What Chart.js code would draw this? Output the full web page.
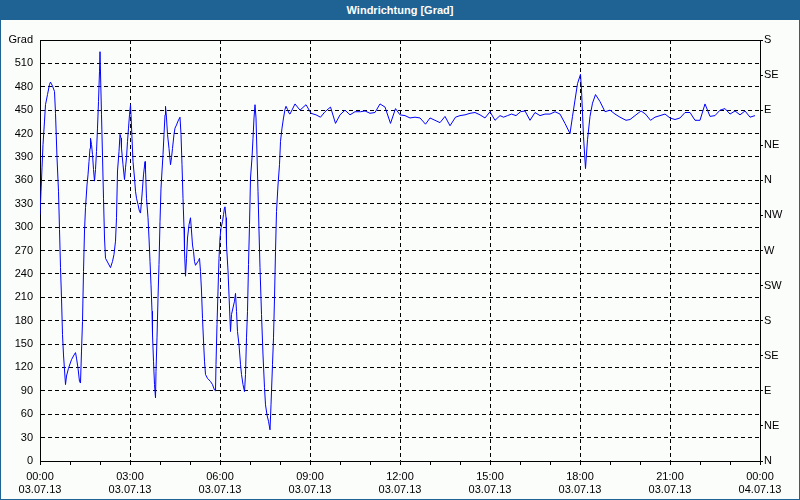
<!DOCTYPE html>
<html>
<head>
<meta charset="utf-8">
<script src="https://cdn.jsdelivr.net/npm/chart.js@4/dist/chart.umd.min.js"></script>
<style>
  html, body { margin: 0; padding: 0; background: #1f6294; }
  #frame { position: relative; width: 800px; height: 500px; background: #1f6294; box-sizing: border-box; }
  #head { position: absolute; left: 0; top: 0; width: 800px; height: 20px; color: #fff;
          font: bold 11px "Liberation Sans", Arial, sans-serif; text-align: center; line-height: 20px; }
  #body { position: absolute; left: 1px; top: 20px; width: 798px; height: 479px; background: #fbfdfb; }
  canvas { display: block; }
</style>
</head>
<body>
<div id="frame">
  <div id="head">Windrichtung [Grad]</div>
  <div id="body"><canvas id="c" width="798" height="479"></canvas></div>
</div>
<script>
// Time of each reading in minutes after 00:00 on 03.07.13
const minutes = [
  0, 2, 4, 6, 9, 11, 15, 19, 21, 25, 29, 31, 34, 37, 39, 41, 43, 45, 47, 51,
  53, 57, 63, 68, 71, 73, 76, 79, 81, 83, 85, 87, 89, 91, 94, 96, 98, 100, 101, 103,
  105, 107, 109, 111, 113, 115, 117, 119, 120, 123, 125, 127, 129, 131, 136, 141, 145, 148, 151, 153,
  155, 158, 160, 162, 163, 166, 169, 171, 173, 175, 177, 179, 181, 182, 184, 186, 189, 191, 193, 196,
  199, 201, 203, 205, 207, 210, 211, 213, 216, 218, 220, 222, 224, 225, 227, 229, 231, 232, 234, 236,
  238, 240, 242, 244, 246, 248, 250, 251, 253, 255, 258, 261, 263, 265, 268, 270, 273, 276, 280, 282,
  284, 286, 288, 289, 291, 293, 295, 298, 301, 303, 305, 307, 309, 311, 314, 317, 319, 321, 323, 325,
  327, 329, 331, 335, 341, 345, 349, 351, 352, 354, 356, 358, 360, 362, 365, 367, 369, 370, 372, 373,
  376, 378, 381, 383, 389, 391, 393, 395, 398, 401, 403, 406, 409, 411, 413, 415, 417, 419, 421, 424,
  426, 428, 430, 432, 434, 436, 438, 440, 443, 446, 449, 451, 454, 457, 460, 462, 465, 467, 469, 471,
  473, 476, 479, 481, 484, 487, 490, 492, 495, 498,
  500, 510, 520, 532, 542, 552, 561, 570, 581, 591, 600, 610, 620, 630, 641, 650, 660, 670, 680, 690,
  701, 711, 720, 730, 740, 750, 760, 771, 780, 790, 800, 810, 820, 831, 840, 850, 860, 870, 880, 890,
  900, 910, 920, 927, 935, 943, 952, 961, 970, 980, 990, 1000, 1010, 1020, 1030, 1040, 1050, 1060, 1065, 1070,
  1075, 1081, 1083, 1087, 1091, 1095, 1100, 1105, 1111, 1120, 1130, 1140, 1150, 1160, 1172, 1180, 1190, 1202, 1211, 1221,
  1230, 1240, 1250, 1260, 1270, 1280, 1290, 1300, 1310, 1320, 1330, 1340, 1350, 1360, 1370, 1380, 1390, 1400, 1410, 1420,
  1430
];
// Wind direction in degrees (values above 360 wrap past north)
const degrees = [
  316, 346, 376, 406, 436, 457, 470, 483, 486, 481, 474, 446, 389, 346, 297, 248, 209, 162, 136, 98,
  109, 119, 130, 136, 139, 132, 119, 102, 100, 141, 179, 243, 295, 325, 354, 367, 384, 401, 414, 406,
  393, 374, 359, 374, 397, 427, 461, 500, 525, 444, 391, 337, 286, 260, 254, 248, 256, 265, 282, 312,
  372, 397, 419, 414, 401, 380, 361, 376, 389, 410, 427, 444, 457, 444, 414, 384, 363, 346, 337, 329,
  320, 318, 333, 350, 367, 384, 374, 337, 312, 286, 256, 226, 192, 162, 128, 98, 81, 115, 158, 209,
  252, 307, 350, 372, 393, 419, 444, 455, 440, 419, 401, 380, 389, 401, 419, 427, 431, 436, 441, 419,
  380, 337, 299, 269, 237, 260, 286, 303, 312, 295, 277, 269, 256, 251, 254, 257, 260, 243, 218, 183,
  154, 128, 111, 106, 102, 98, 91, 90, 124, 175, 218, 260, 286, 299, 307, 316, 325, 326, 312, 277,
  244, 213, 166, 188, 205, 215, 192, 166, 149, 124, 111, 98, 89, 111, 158, 192, 252, 303, 363, 389,
  414, 440, 457, 440, 393, 346, 295, 248, 188, 136, 94, 72, 59, 51, 40, 72, 124, 158, 209, 269,
  320, 354, 380, 410, 427, 440, 451, 455, 451, 446,
  445, 458, 450, 457, 446, 444, 441, 448, 454, 433, 444, 450, 444, 448, 448, 449, 446, 447, 458, 454,
  433, 452, 444, 443, 440, 441, 440, 432, 440, 437, 434, 442, 430, 441, 443, 444, 446, 447, 444, 440,
  448, 437, 443, 441, 443, 445, 443, 448, 449, 437, 447, 443, 445, 445, 448, 445, 433, 420, 442, 463,
  484, 496, 476, 416, 375, 412, 442, 459, 470, 461, 448, 450, 445, 441, 437, 438, 443, 449, 445, 437,
  441, 443, 445, 440, 438, 440, 447, 447, 437, 437, 458, 442, 443, 450, 452, 445, 449, 444, 449, 441,
  443
];
const timeLabels = ['00:00', '03:00', '06:00', '09:00', '12:00', '15:00', '18:00', '21:00', '00:00'];
const dateLabels = ['03.07.13', '03.07.13', '03.07.13', '03.07.13', '03.07.13', '03.07.13', '03.07.13', '03.07.13', '04.07.13'];
const compassLabels = ['N', 'NE', 'E', 'SE', 'S', 'SW', 'W', 'NW', 'N', 'NE', 'E', 'SE', 'S'];
const axisTitle = 'Grad';

const points = minutes.map((m, i) => ({ x: m, y: degrees[i] }));
const FONT = { family: '"Liberation Sans", Arial, sans-serif', size: 11 };

new Chart(document.getElementById('c'), {
  type: 'line',
  data: {
    datasets: [{
      data: points,
      borderColor: '#0000ff',
      borderWidth: 1,
      pointRadius: 0,
      tension: 0,
      fill: false
    }]
  },
  options: {
    responsive: false,
    animation: false,
    events: [],
    layout: { padding: { top: 20, left: 0, right: 0, bottom: 0 } },
    plugins: { legend: { display: false }, tooltip: { enabled: false }, title: { display: false } },
    scales: {
      x: {
        type: 'linear', position: 'bottom', min: 0, max: 1440,
        afterFit: s => { s.height = 38; },
        ticks: {
          stepSize: 60, autoSkip: false, maxRotation: 0, minRotation: 0,
          color: '#000', font: FONT, padding: 5,
          callback: v => (v % 180 === 0) ? [timeLabels[v / 180], dateLabels[v / 180]] : ''
        },
        grid: {
          color: c => (c.tick && c.tick.value % 180 === 0 && c.tick.value > 0 && c.tick.value < 1440) ? '#000' : 'rgba(0,0,0,0)',
          tickColor: '#000', tickLength: 4, drawTicks: true, tickBorderDash: [], lineWidth: 1
        },
        border: { display: true, color: '#000', width: 1, dash: [4, 3] }
      },
      xTop: {
        type: 'linear', position: 'top', min: 0, max: 1440,
        afterFit: s => { s.height = 0; },
        ticks: { display: false },
        grid: { display: false, drawTicks: false },
        border: { display: true, color: '#000', width: 1 }
      },
      y: {
        type: 'linear', position: 'left', min: 0, max: 540,
        afterFit: s => { s.width = 39; },
        ticks: {
          stepSize: 30, autoSkip: false, color: '#000', font: FONT, padding: 7,
          callback: v => v === 540 ? axisTitle : String(v)
        },
        grid: {
          color: c => (c.tick && c.tick.value > 0 && c.tick.value < 540) ? '#000' : 'rgba(0,0,0,0)',
          drawTicks: false, lineWidth: 1
        },
        border: { display: true, color: '#000', width: 1, dash: [4, 3] }
      },
      yRight: {
        type: 'linear', position: 'right', min: 0, max: 540,
        afterFit: s => { s.width = 39; },
        ticks: {
          stepSize: 45, autoSkip: false, color: '#000', font: FONT, padding: 1,
          callback: v => compassLabels[Math.round(v / 45)]
        },
        grid: { drawOnChartArea: false, drawTicks: true, tickLength: 3, tickColor: '#000' },
        border: { display: true, color: '#000', width: 1 }
      }
    }
  }
});
</script>
</body>
</html>
